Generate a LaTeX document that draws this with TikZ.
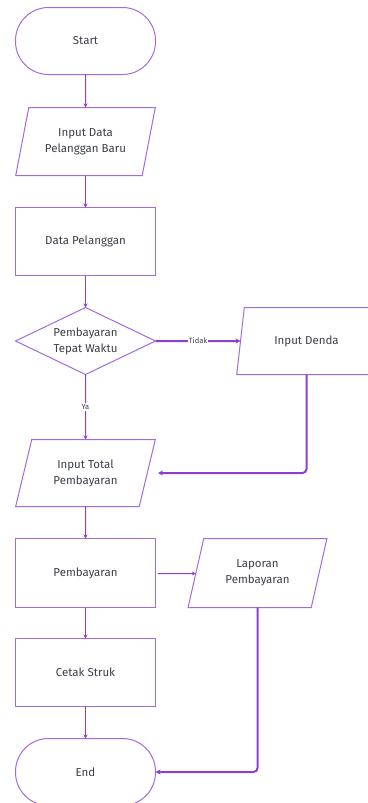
\documentclass[tikz,border=0pt]{standalone}
\usepackage{fontspec}
\setmainfont{Fira Sans}[Color=3B3F4A]
\usetikzlibrary{shapes.geometric,arrows.meta}
\definecolor{bordc}{HTML}{A26BDD}
\definecolor{arrc}{HTML}{8A3FD3}
\begin{document}
\begin{tikzpicture}[x=1pt,y=-1pt,
  base/.style={draw=bordc,line width=1pt,fill=white,font=\fontsize{11.5}{16}\selectfont,align=center,inner sep=0pt,outer sep=0pt},
  term/.style={base,rectangle,rounded corners=33pt,minimum width=140pt,minimum height=67pt},
  proc/.style={base,rectangle,minimum width=140pt,minimum height=68pt},
  io/.style={base,trapezium,trapezium left angle=70.5,trapezium right angle=109.5,trapezium stretches=true,minimum width=140pt,minimum height=68pt},
  dec/.style={base,diamond,aspect=2.2,minimum width=140pt,minimum height=67pt},
  conn/.style={draw=arrc,line width=1pt,-{Stealth[length=4pt,width=4pt]}},
  thick conn/.style={draw=arrc,line width=2pt,rounded corners=4pt,-{Stealth[length=5pt,width=5pt]}},
  lbl/.style={fill=white,font=\fontsize{7.5}{9}\selectfont,inner sep=1pt}
]
\useasboundingbox (0,0) rectangle (367,803);
\node[term] (start) at (85.5,41) {Start};
\node[io] (indata) at (85.5,141.5) {Input Data\\Pelanggan Baru};
\node[proc] (datapel) at (85.5,241.5) {Data Pelanggan};
\node[dec] (tepat) at (85.5,341) {Pembayaran\\Tepat Waktu};
\node[io,minimum height=67pt] (denda) at (306.5,341) {Input Denda};
\node[io,minimum height=67pt] (total) at (85.5,473) {Input Total\\Pembayaran};
\node[proc,minimum height=69pt] (bayar) at (85.5,573) {Pembayaran};
\node[io,minimum height=69pt] (lapor) at (257.5,573) {Laporan\\Pembayaran};
\node[proc] (cetak) at (85.5,672.5) {Cetak Struk};
\node[term] (end) at (85.5,772) {End};
\coordinate (totin) at (158,473);
\draw[conn] (start) -- (indata);
\draw[conn] (indata) -- (datapel);
\draw[conn] (datapel) -- (tepat);
\draw[thick conn] (tepat.east) -- node[lbl,pos=0.5]{Tidak} (denda.west);
\draw[conn] (tepat.south) -- node[lbl]{Ya} (total.north);
\draw[thick conn] (denda.south) |- (totin);
\draw[conn] (total) -- (bayar);
\draw[conn] ([xshift=2pt,yshift=-0.5pt]bayar.east) -- ([yshift=-0.5pt]lapor.west);
\draw[conn] (bayar) -- (cetak);
\draw[conn] (cetak) -- (end);
\draw[thick conn] (lapor.south) |- (end.east);
\end{tikzpicture}
\end{document}
